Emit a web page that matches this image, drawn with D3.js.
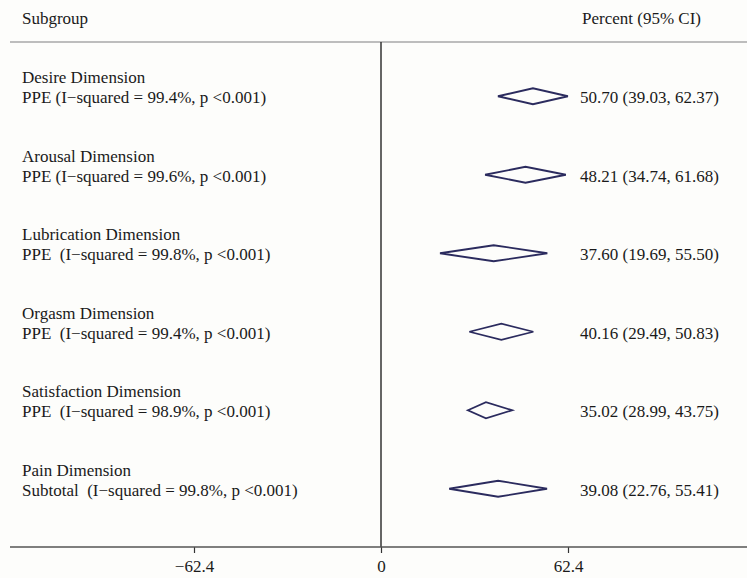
<!DOCTYPE html>
<html><head><meta charset="utf-8">
<script src="https://cdn.jsdelivr.net/npm/d3@7"></script>
<style>
body{margin:0;background:#fdfdfb;}
text{font-family:"Liberation Serif","Times New Roman",serif;font-size:17px;fill:#1a1a1a;white-space:pre;}
</style></head><body>
<svg id="c" width="747" height="578"></svg>
<script>
const groups = ["Desire Dimension","Arousal Dimension","Lubrication Dimension","Orgasm Dimension","Satisfaction Dimension","Pain Dimension"];
const stats = ["PPE (I\u2212squared = 99.4%, p <0.001)","PPE (I\u2212squared = 99.6%, p <0.001)","PPE  (I\u2212squared = 99.8%, p <0.001)","PPE  (I\u2212squared = 99.4%, p <0.001)","PPE  (I\u2212squared = 98.9%, p <0.001)","Subtotal  (I\u2212squared = 99.8%, p <0.001)"];
const est = [50.70,48.21,37.60,40.16,35.02,39.08];
const lower = [39.03,34.74,19.69,29.49,28.99,22.76];
const upper = [62.37,61.68,55.50,50.83,43.75,55.41];
const tickVals = [-62.4,0,62.4];

const svg = d3.select("#c");
const x = d3.scaleLinear().domain([0,62.4]).range([381,568]);
const y = d3.scaleBand().domain(groups).range([50,521]);

// header
svg.append("text").attr("x",22).attr("y",24).text("Subgroup");
svg.append("text").attr("x",582).attr("y",24).text("Percent (95% CI)");
svg.append("line").attr("x1",10).attr("x2",747).attr("y1",42).attr("y2",42).attr("stroke","#bdbdbd").attr("stroke-width",2);

// zero line
svg.append("line").attr("x1",x(0)).attr("x2",x(0)).attr("y1",42).attr("y2",547).attr("stroke","#333").attr("stroke-width",1.5);

// axis
const ax = svg.append("g").attr("transform","translate(0,547)")
  .call(d3.axisBottom(x).tickValues(tickVals).tickSize(6).tickFormat(d=>d===0?"0":d3.format(".1f")(d).replace("-","\u2212")));
ax.select(".domain").remove();
ax.selectAll(".tick line").attr("stroke","#333").attr("stroke-width",1.2);
ax.selectAll(".tick text").attr("font-family","Liberation Serif").attr("font-size",17).attr("fill","#1a1a1a").attr("y",0).attr("dy",0).attr("transform","translate(0,25)");
svg.append("line").attr("x1",10).attr("x2",747).attr("y1",547).attr("y2",547).attr("stroke","#555").attr("stroke-width",1.5);

groups.forEach((g,i)=>{
  const cy = y(g)+y.bandwidth()/2 + 7;
  svg.append("text").attr("x",22).attr("y",cy-13).text(g);
  svg.append("text").attr("x",22).attr("y",cy+7).text(stats[i]);
  const h = 8;
  const pts = [[x(lower[i]),cy],[x(est[i]),cy-h],[x(upper[i]),cy],[x(est[i]),cy+h]];
  svg.append("path").attr("d",d3.line()(pts)+"Z").attr("fill","none").attr("stroke","#2b2b5e").attr("stroke-width",1.8);
  svg.append("text").attr("x",580).attr("y",cy+7).text(`${est[i].toFixed(2)} (${lower[i].toFixed(2)}, ${upper[i].toFixed(2)})`);
});
</script></body></html>
